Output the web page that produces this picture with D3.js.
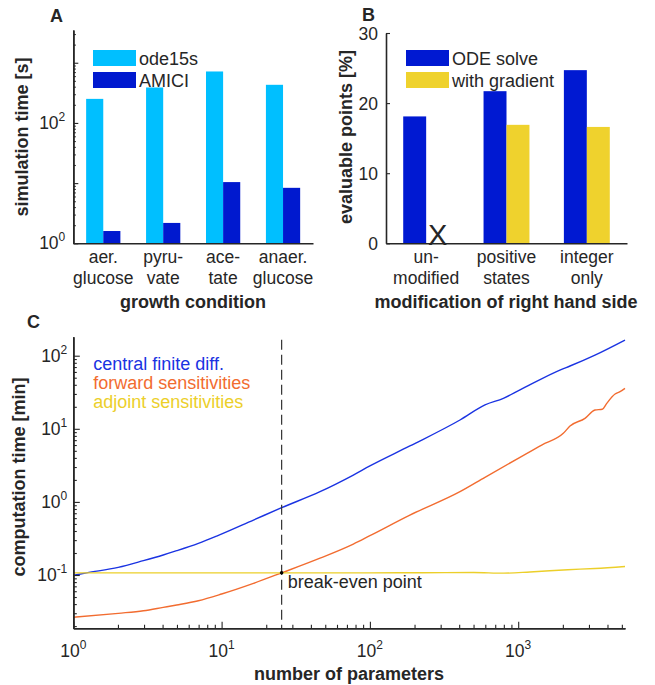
<!DOCTYPE html>
<html>
<head>
<meta charset="utf-8">
<title>Simulation benchmarks</title>
<style>
  body { margin: 0; background: #fff; }
  svg text { font-family: "Liberation Sans", Arial, sans-serif; fill: #262626; }
  .domain { stroke: #262626; stroke-width: 1.6px; }
  .tick line { stroke: #262626; stroke-width: 1.1px; }
</style>
</head>
<body>
<div id="fig"></div>
<script src="https://cdnjs.cloudflare.com/ajax/libs/d3/7.8.5/d3.min.js"></script>
<script>

// ---- panel A: simulation time per growth condition
var conditions = [['aer.', 'glucose'], ['pyru-', 'vate'], ['ace-', 'tate'], ['anaer.', 'glucose']];
var ode15sTime = [251, 388, 716, 430];
var amiciTime = [1.6, 2.18, 10.4, 8.35];
var yTicksA = [1, 100];

// ---- panel B: evaluable points
var rhsVariants = [['un-', 'modified'], ['positive', 'states'], ['integer', 'only']];
var odeSolvePct = [18.1, 21.7, 24.7];
var gradientPct = [null, 16.9, 16.6];   // null -> not evaluable, drawn as X
var yTicksB = [0, 10, 20, 30];

// ---- panel C: computation time vs number of parameters
var nFD  = [1, 1.23, 2.01, 2.97, 4.04, 4.98, 6.97, 9.27, 16.4, 25.4, 46.1, 77.3, 100, 186, 405, 597, 794, 1028, 1963, 2235, 3294, 5250];
var tFD  = [0.099, 0.107, 0.127, 0.157, 0.188, 0.215, 0.271, 0.341, 0.565, 0.834, 1.38, 2.33, 3.10, 5.82, 13.2, 21.2, 26.1, 34.0, 65.1, 72.3, 102, 164];
var nFwd = [1, 2.01, 2.97, 4.04, 4.98, 6.97, 10, 16.4, 25.4, 46.1, 77.3, 100, 186, 405, 597, 1028, 1440, 2014, 2235, 2820, 3294, 3690, 3953, 4500, 4860, 5250];
var tFwd = [0.0264, 0.0299, 0.0324, 0.0361, 0.0389, 0.0445, 0.055, 0.0769, 0.107, 0.170, 0.265, 0.345, 0.66, 1.38, 2.17, 4.07, 6.0, 8.67, 10.9, 13.9, 18.1, 18.5, 22.3, 29.9, 32.2, 35.8];
var nAdj = [1, 100, 500, 800, 1200, 2160, 3300, 5250];
var tAdj = [0.107, 0.107, 0.108, 0.106, 0.110, 0.118, 0.123, 0.131];
var breakEvenN = 25.4, breakEvenT = 0.107;
var xTicksC = [1, 10, 100, 1000];
var yTicksC = [0.1, 1, 10, 100];

var cOde15s = '#00bfff', cAmici = '#0019cf', cOde = '#0019d2', cGrad = '#efd22d';
var cFD = '#1a33e2', cFwd = '#f26c30', cAdj = '#eccf2a';

var svg = d3.select('#fig').append('svg')
  .attr('width', 655)
  .attr('height', 685);

var barW = 2 / 7;

function isDecade(v) {
  var l = Math.log10(v);
  return Math.abs(l - Math.round(l)) < 1e-9;
}

function powLabel(t, v) {
  t.append('tspan').text('10');
  t.append('tspan').attr('dy', -8).attr('font-size', 12).text(Math.round(Math.log10(v)));
}

function styleAxis(g) {
  g.selectAll('text').remove();
}

// log axis: minor + major ticks pointing inward
function logAxisLeft(scale, x, major, minor) {
  var all = scale.ticks();
  svg.append('g').attr('transform', 'translate(' + x + ',0)')
    .call(d3.axisLeft(scale).tickValues(all.filter(function(v) { return !isDecade(v); }))
      .tickSize(-minor).tickSizeOuter(0).tickFormat(''))
    .call(styleAxis);
  svg.append('g').attr('transform', 'translate(' + x + ',0)')
    .call(d3.axisLeft(scale).tickValues(all.filter(isDecade))
      .tickSize(-major).tickSizeOuter(0).tickFormat(''))
    .call(styleAxis);
}

function logAxisBottom(scale, y, major, minor) {
  var all = scale.ticks();
  svg.append('g').attr('transform', 'translate(0,' + y + ')')
    .call(d3.axisBottom(scale).tickValues(all.filter(function(v) { return !isDecade(v); }))
      .tickSize(-minor).tickSizeOuter(0).tickFormat(''))
    .call(styleAxis);
  svg.append('g').attr('transform', 'translate(0,' + y + ')')
    .call(d3.axisBottom(scale).tickValues(all.filter(isDecade))
      .tickSize(-major).tickSizeOuter(0).tickFormat(''))
    .call(styleAxis);
}

function panelLetter(txt, x, y) {
  svg.append('text').attr('x', x).attr('y', y)
    .attr('font-size', 18).attr('font-weight', 'bold').attr('fill', '#000').text(txt);
}

function yLabel(txt, x, y) {
  svg.append('text')
    .attr('transform', 'translate(' + x + ',' + y + ') rotate(-90)')
    .attr('text-anchor', 'middle').attr('font-size', 18).attr('font-weight', 'bold')
    .text(txt);
}

function xLabel(txt, x, y) {
  svg.append('text').attr('x', x).attr('y', y)
    .attr('text-anchor', 'middle').attr('font-size', 18).attr('font-weight', 'bold')
    .text(txt);
}

function twoLineTicks(scale, names, y0) {
  names.forEach(function(lines, i) {
    lines.forEach(function(s, k) {
      svg.append('text')
        .attr('x', scale(i + 1)).attr('y', y0 + 20 + k * 21)
        .attr('text-anchor', 'middle').attr('font-size', 17.5)
        .text(s);
    });
  });
}

function legendBox(x, y, items) {
  items.forEach(function(it, i) {
    svg.append('rect').attr('x', x).attr('y', y + i * 22)
      .attr('width', 43).attr('height', 16).attr('fill', it[1]);
    svg.append('text').attr('x', x + 46).attr('y', y + i * 22 + 15)
      .attr('font-size', 18).attr('fill', '#111').text(it[0]);
  });
}

// ================= A =================
var xA = d3.scaleLinear().domain([0.5, 4.5]).range([73.3, 313]);
var yA = d3.scaleLog().domain([1, 3500]).range([243.3, 30]);

svg.append('g').selectAll('rect.ode15s')
  .data(ode15sTime).enter().append('rect')
  .attr('x', function(d, i) { return xA(i + 1 - barW); })
  .attr('width', xA(1) - xA(1 - barW))
  .attr('y', function(d) { return yA(d); })
  .attr('height', function(d) { return yA(1) - yA(d); })
  .attr('fill', cOde15s);

svg.append('g').selectAll('rect.amici')
  .data(amiciTime).enter().append('rect')
  .attr('x', function(d, i) { return xA(i + 1); })
  .attr('width', xA(1 + barW) - xA(1))
  .attr('y', function(d) { return yA(d); })
  .attr('height', function(d) { return yA(1) - yA(d); })
  .attr('fill', cAmici);

logAxisLeft(yA, xA.range()[0], 5, 2.5);
svg.append('g').attr('transform', 'translate(0,' + yA.range()[0] + ')')
  .call(d3.axisBottom(xA).tickValues([]).tickSizeOuter(0));

yTicksA.forEach(function(v) {
  var t = svg.append('text').attr('x', xA.range()[0] - 8).attr('y', yA(v) + 6)
    .attr('text-anchor', 'end').attr('font-size', 17.5);
  powLabel(t, v);
});
twoLineTicks(xA, conditions, yA.range()[0]);
legendBox(93, 50, [['ode15s', cOde15s], ['AMICI', cAmici]]);
panelLetter('A', 50, 22);
yLabel('simulation time [s]', 27.5, 137);
xLabel('growth condition', 193, 308);

// ================= B =================
var xB = d3.scaleLinear().domain([0.5, 3.5]).range([386, 627]);
var yB = d3.scaleLinear().domain([0, 30]).range([243.3, 33]);

svg.append('g').selectAll('rect')
  .data(odeSolvePct).enter().append('rect')
  .attr('x', function(d, i) { return xB(i + 1 - barW); })
  .attr('width', xB(1) - xB(1 - barW))
  .attr('y', function(d) { return yB(d); })
  .attr('height', function(d) { return yB(0) - yB(d); })
  .attr('fill', cOde);

svg.append('g').selectAll('rect')
  .data(gradientPct.map(function(d, i) { return {v: d, i: i}; }).filter(function(d) { return d.v !== null; }))
  .enter().append('rect')
  .attr('x', function(d) { return xB(d.i + 1); })
  .attr('width', xB(1 + barW) - xB(1))
  .attr('y', function(d) { return yB(d.v); })
  .attr('height', function(d) { return yB(0) - yB(d.v); })
  .attr('fill', cGrad);

gradientPct.forEach(function(d, i) {
  if (d === null) {
    svg.append('text')
      .attr('x', xB(i + 1 + barW / 2)).attr('y', yB(0) + 2)
      .attr('text-anchor', 'middle').attr('font-size', 29).attr('fill', '#111')
      .text('X');
  }
});

svg.append('g').attr('transform', 'translate(' + xB.range()[0] + ',0)')
  .call(d3.axisLeft(yB).tickValues(yTicksB).tickSize(-4).tickSizeOuter(0).tickFormat(''))
  .call(styleAxis);
svg.append('g').attr('transform', 'translate(0,' + yB.range()[0] + ')')
  .call(d3.axisBottom(xB).tickValues([]).tickSizeOuter(0));

yTicksB.forEach(function(v) {
  svg.append('text').attr('x', xB.range()[0] - 8).attr('y', yB(v) + 6.5)
    .attr('text-anchor', 'end').attr('font-size', 17.5).text(v);
});
twoLineTicks(xB, rhsVariants, yB.range()[0]);
legendBox(406, 50, [['ODE solve', cOde], ['with gradient', cGrad]]);
panelLetter('B', 362, 21);
yLabel('evaluable points [%]', 352, 137);
xLabel('modification of right hand side', 506, 308);

// ================= C =================
var xC = d3.scaleLog().domain([1, 5250]).range([73.3, 625]);
var yC = d3.scaleLog().domain([0.01866, 182]).range([628.3, 336.7]);

var line = d3.line()
  .x(function(d) { return xC(d[0]); })
  .y(function(d) { return yC(d[1]); })
  .curve(d3.curveMonotoneX);

[[nFD, tFD, cFD], [nFwd, tFwd, cFwd], [nAdj, tAdj, cAdj]].forEach(function(s) {
  svg.append('path')
    .datum(d3.zip(s[0], s[1]))
    .attr('d', line)
    .attr('fill', 'none')
    .attr('stroke', s[2])
    .attr('stroke-width', 1.4);
});

svg.append('line')
  .attr('x1', xC(breakEvenN)).attr('x2', xC(breakEvenN))
  .attr('y1', yC.range()[1] + 3).attr('y2', yC.range()[0])
  .attr('stroke', '#333').attr('stroke-width', 1.2)
  .attr('stroke-dasharray', '10,5');

svg.append('circle')
  .attr('cx', xC(breakEvenN)).attr('cy', yC(breakEvenT)).attr('r', 1.8)
  .attr('fill', '#000');

svg.append('text')
  .attr('x', xC(breakEvenN) + 6).attr('y', yC(breakEvenT) + 15)
  .attr('font-size', 18).attr('fill', '#111').text('break-even point');

logAxisLeft(yC, xC.range()[0], 6.5, 3.5);
logAxisBottom(xC, yC.range()[0], 6.5, 3.5);

yTicksC.forEach(function(v) {
  var t = svg.append('text').attr('x', xC.range()[0] - 6).attr('y', yC(v) + 6)
    .attr('text-anchor', 'end').attr('font-size', 17.5);
  powLabel(t, v);
});
xTicksC.forEach(function(v) {
  var t = svg.append('text').attr('x', xC(v)).attr('y', yC.range()[0] + 28.5)
    .attr('text-anchor', 'middle').attr('font-size', 17.5);
  powLabel(t, v);
});

[['central finite diff.', cFD], ['forward sensitivities', cFwd], ['adjoint sensitivities', cAdj]]
  .forEach(function(it, i) {
    svg.append('text').attr('x', 93.3).attr('y', 370 + i * 19)
      .attr('font-size', 18).style('fill', it[1]).text(it[0]);
  });

panelLetter('C', 27, 328);
yLabel('computation time [min]', 24.5, 477);
xLabel('number of parameters', 349, 680);

</script>
</body>
</html>
